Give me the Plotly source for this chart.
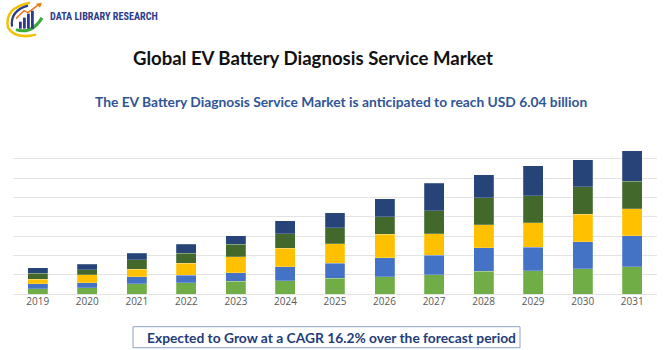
import plotly.graph_objects as go

years = ["2019", "2020", "2021", "2022", "2023", "2024", "2025",
         "2026", "2027", "2028", "2029", "2030", "2031"]
# segment heights (in gridline units), bottom to top
seg1 = [0.26, 0.33, 0.52, 0.57, 0.66, 0.69, 0.81, 0.90, 1.00, 1.17, 1.21, 1.31, 1.41]
seg2 = [0.28, 0.26, 0.36, 0.41, 0.45, 0.71, 0.79, 0.97, 1.00, 1.21, 1.22, 1.40, 1.60]
seg3 = [0.22, 0.41, 0.40, 0.62, 0.81, 0.97, 1.00, 1.21, 1.12, 1.21, 1.26, 1.41, 1.41]
seg4 = [0.31, 0.26, 0.50, 0.52, 0.66, 0.74, 0.83, 0.91, 1.19, 1.40, 1.38, 1.43, 1.41]
seg5 = [0.29, 0.29, 0.33, 0.45, 0.43, 0.67, 0.78, 0.93, 1.43, 1.19, 1.57, 1.40, 1.59]
series = [seg1, seg2, seg3, seg4, seg5]
colors = ["#70AD47", "#4472C4", "#FFC000", "#43682B", "#264478"]

W, H = 670, 350
L, R = 13, 13
BASE = 294.3
UNIT = 19.33
YMAX = 7.5
T = BASE - YMAX * UNIT
B = H - BASE
PW = W - L - R
PH = YMAX * UNIT


def px(x):
    return (x - L) / PW


def py(y):
    return (BASE - y) / PH


fig = go.Figure()
for s, c in zip(series, colors):
    fig.add_trace(go.Bar(x=years, y=s, marker=dict(color=c, line=dict(color="rgba(255,255,255,0.35)", width=0.6)),
                         showlegend=False, hoverinfo="skip"))

fig.update_layout(
    width=W, height=H,
    margin=dict(l=L, r=R, t=T, b=B),
    barmode="stack", bargap=0.597,
    plot_bgcolor="white", paper_bgcolor="white",
    font=dict(family="Lato, sans-serif"),
    xaxis=dict(showgrid=False, showline=False, ticks="", tickfont=dict(size=10, color="#595959", family="Open Sans"),
               range=[-0.5, 12.5]),
    yaxis=dict(range=[0, YMAX], dtick=1, showgrid=True, gridcolor="#E3E3E3", gridwidth=1.2,
               showticklabels=False, zeroline=True, zerolinecolor="#E3E3E3", zerolinewidth=1.2, fixedrange=True),
)

annotations = [
    dict(text="<b>Global EV Battery Diagnosis Service Market</b>", x=px(312.5), y=py(58),
         font=dict(size=18.6, color="#111111", family="Lato")),
    dict(text="<b>The EV Battery Diagnosis Service Market is anticipated to reach USD 6.04 billion</b>",
         x=px(341.5), y=py(102), font=dict(size=13.8, color="#2F5597", family="Lato")),
    dict(text="<b>Expected to Grow at a CAGR 16.2% over the forecast period</b>", x=px(331), y=py(338),
         font=dict(size=13.8, color="#1F3C7A", family="Lato")),
    dict(text="<b>DATA LIBRARY RESEARCH</b>", x=px(48), y=py(17), xanchor="left",
         font=dict(size=10.2, color="#2B3A8C", family="Roboto Condensed, Roboto")),
]
for a in annotations:
    a.setdefault("xanchor", "center")
    a.update(xref="paper", yref="paper", yanchor="middle", showarrow=False)
fig.update_layout(annotations=annotations)

shapes = [
    # bottom box
    dict(type="rect", x0=px(133), x1=px(520), y0=py(348), y1=py(327),
         line=dict(color="#8EA2C4", width=1), fillcolor="rgba(0,0,0,0)"),
]
# logo: arcs
shapes.append(dict(type="path",
                   path=f"M {px(30)},{py(3)} Q {px(4)},{py(8)} {px(8)},{py(28)} Q {px(15)},{py(40)} {px(36)},{py(35)}",
                   line=dict(color="#F2C200", width=2.5)))
shapes.append(dict(type="path",
                   path=f"M {px(28)},{py(6)} Q {px(10)},{py(11)} {px(12)},{py(27)}",
                   line=dict(color="#2B3A8C", width=2.2)))
shapes.append(dict(type="path",
                   path=f"M {px(16)},{py(30)} Q {px(32)},{py(35)} {px(42)},{py(18)}",
                   line=dict(color="#3DAA3D", width=3)))
for bx, top in [(19, 22), (23, 18), (27, 14), (31, 11)]:
    shapes.append(dict(type="rect", x0=px(bx), x1=px(bx + 2.8), y0=py(29), y1=py(top),
                       line=dict(width=0), fillcolor="#2B3A8C"))
shapes.append(dict(type="path",
                   path=f"M {px(16)},{py(19)} L {px(24)},{py(11)} L {px(28)},{py(13)} L {px(40)},{py(4)}",
                   line=dict(color="#F07A1A", width=1.6)))
shapes.append(dict(type="path",
                   path=f"M {px(36)},{py(4)} L {px(42)},{py(3)} L {px(40)},{py(8)} Z",
                   line=dict(width=0), fillcolor="#F07A1A"))
for s in shapes:
    s.setdefault("xref", "paper")
    s.setdefault("yref", "paper")
fig.update_layout(shapes=shapes)

fig.write_html("out.html")
